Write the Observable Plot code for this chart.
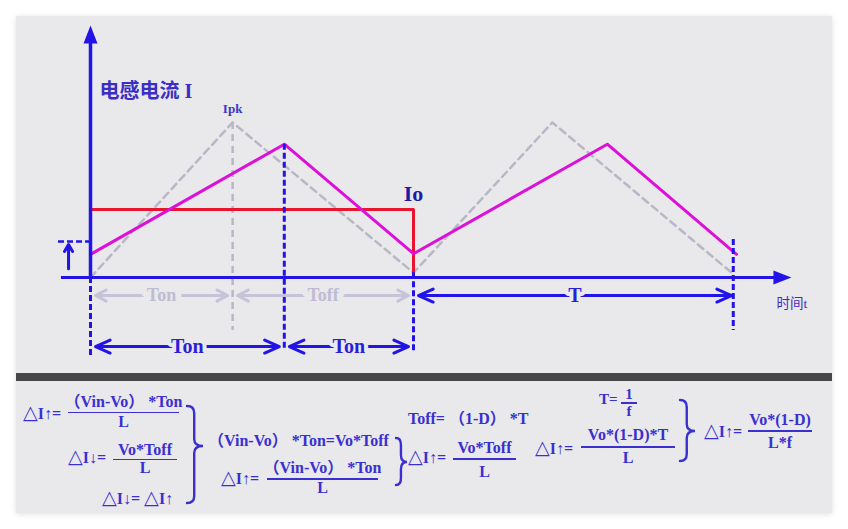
<!DOCTYPE html>
<html lang="zh">
<head>
<meta charset="utf-8">
<title>电感电流</title>
<script src="https://cdn.jsdelivr.net/npm/d3@7"></script>
<script src="https://cdn.jsdelivr.net/npm/@observablehq/plot@0.6"></script>
<style>
html,body{margin:0;padding:0;background:#fff;}
#page{position:relative;width:848px;height:529px;overflow:hidden;background:#fff;}
#frame{position:absolute;left:16px;top:16px;width:816px;height:497px;background:#e9e8eb;box-shadow:0 1px 6px rgba(0,0,0,0.13);}
#chart{position:absolute;left:0;top:0;}
#bar{position:absolute;left:16px;top:373px;width:816px;height:8px;background:#464646;}
#caption{position:absolute;left:0;top:381px;width:848px;height:132px;
  font-family:"Liberation Serif","DejaVu Serif","Noto Sans CJK SC",serif;font-weight:bold;color:#3a2fcf;}
.t{position:absolute;white-space:nowrap;}
.c{transform:translateX(-50%);}
.tri{font-size:1.2em;font-weight:normal;}
.fl{position:absolute;height:1.5px;background:#3a2fcf;}
#braces{position:absolute;left:0;top:0;overflow:visible;}
</style>
</head>
<body>
<div id="page">
  <div id="frame"></div>
  <div id="chart"></div>
  <div id="bar"></div>
  <div id="caption"></div>
</div>
<script>
// ---------------- data ----------------
// time in switching periods (T = 1), current in units of Io
// reference triangle (grey dashed)
const refT = [0, 0.44, 1, 1.43, 1.985];
const refI = [0, 2.28, 0.07, 2.28, 0.07];
// inductor current (magenta)
const ilT = [0, 0.6, 1, 1.6, 2];
const ilI = [0.34, 1.96, 0.35, 1.96, 0.34];
// output current Io (red)
const ioT = [0, 1, 1];
const ioI = [1, 1, 0.07];
// blue dashed markers at switching instants
const markT = [0, 0.6, 1, 1.99];
const markTop = [0, 1.96, 0.07, 0.56];
const markBottom = [-1.15, -1.07, -1.12, -0.78];
// grey guide below the reference peak
const refGuideBottom = -0.78;
// dimension arrows
const dimLabel = ["Ton", "Toff", "T", "Ton", "Ton"];
const dimFrom = [0, 0.44, 1, 0, 0.6];
const dimTo = [0.44, 1, 2, 0.6, 1];
const dimRow = [0, 0, 0, 1, 1];
const dimGrey = [true, true, false, false, false];
const rowLevel = [-0.265, -1.015];
// small ripple marker on the left
const rippleLevel = 0.53;
const rippleArrow = {t: -0.068, from: 0.13, to: 0.485};
const rippleDashFrom = -0.099;
// axes
const axisXStart = -0.09, axisXEnd = 2.136, axisXTip = 2.17;
const axisYEnd = 3.56, axisYTip = 3.706;
// labels
const yLabel = "电感电流 I", yLabelLevel = 2.735;
const xLabel = "时间t";
const peakLabel = "Ipk";
const ioLabel = "Io";

// ---------------- styles ----------------
const BG = "#e9e8eb";
const BLUE = "#2214e6";
const GREY = "#b9b7c6";
const GREY_ARROW = "#c6c2d8";
const GREY_TEXT = "#bfbbd2";
const MAGENTA = "#dc10d8";
const RED = "#e8152e";
const SERIF = '"Liberation Serif","DejaVu Serif",serif';
const CJK = '"Liberation Serif","Noto Sans CJK SC",sans-serif';

const pts = (T, I) => T.map((t, k) => ({t, i: I[k]}));
const ref = pts(refT, refI);
const il = pts(ilT, ilI);
const io = pts(ioT, ioI);
const marks = markT.map((t, k) => ({t, top: markTop[k], bottom: markBottom[k]}));
const dims = dimLabel.map((label, k) => ({
  label, from: dimFrom[k], to: dimTo[k], mid: (dimFrom[k] + dimTo[k]) / 2,
  level: rowLevel[dimRow[k]], grey: dimGrey[k]
}));
const halves = dims.flatMap(d => [{...d, end: d.from}, {...d, end: d.to}]);

const arrowHead = {
  draw(ctx) { ctx.moveTo(0, 0); ctx.lineTo(7, 18); ctx.lineTo(-7, 18); ctx.closePath(); }
};

const chart = Plot.plot({
  width: 848, height: 373, margin: 0,
  style: {background: "transparent", overflow: "visible"},
  x: {domain: [-90 / 323, 758 / 323], range: [0, 848], axis: null},
  y: {domain: [-96 / 68, 277 / 68], range: [373, 0], axis: null},
  marks: [
    // reference waveform
    Plot.line(ref, {x: "t", y: "i", stroke: GREY, strokeWidth: 2.5, strokeDasharray: "7,5"}),
    Plot.ruleX([ref[1]], {x: "t", y1: "i", y2: refGuideBottom, stroke: GREY, strokeWidth: 2.5, strokeDasharray: "7,5"}),
    // Io
    Plot.line(io, {x: "t", y: "i", stroke: RED, strokeWidth: 3}),
    // inductor current
    Plot.line(il, {x: "t", y: "i", stroke: MAGENTA, strokeWidth: 3}),
    // switching markers
    Plot.ruleX(marks, {x: "t", y1: "top", y2: "bottom", stroke: BLUE, strokeWidth: 3, strokeDasharray: "6,3"}),
    // ripple marker
    Plot.ruleY([rippleLevel], {x1: rippleDashFrom, x2: 0, stroke: BLUE, strokeWidth: 2.5, strokeDasharray: "6,3"}),
    Plot.arrow([rippleArrow], {x1: "t", x2: "t", y1: "from", y2: "to", stroke: BLUE, strokeWidth: 3, headLength: 5, headAngle: 60}),
    // axes
    Plot.ruleY([0], {x1: axisXStart, x2: axisXEnd, stroke: BLUE, strokeWidth: 3}),
    Plot.ruleX([0], {y1: 0, y2: axisYEnd, stroke: BLUE, strokeWidth: 3.5}),
    Plot.dot([{t: axisXTip, i: 0, rot: 90}, {t: 0, i: axisYTip, rot: 0}],
      {x: "t", y: "i", rotate: "rot", symbol: arrowHead, fill: BLUE, stroke: "none"}),
    // dimension arrows
    Plot.arrow(halves.filter(d => d.grey), {x1: "mid", x2: "end", y1: "level", y2: "level",
      stroke: GREY_ARROW, strokeWidth: 3, headLength: 6, headAngle: 55, insetEnd: 5}),
    Plot.arrow(halves.filter(d => !d.grey), {x1: "mid", x2: "end", y1: "level", y2: "level",
      stroke: BLUE, strokeWidth: 3, headLength: 8, headAngle: 48, insetEnd: 5}),
    Plot.text(dims.filter(d => d.grey), {x: "mid", y: "level", text: "label", fill: GREY_TEXT,
      stroke: BG, strokeWidth: 12, paintOrder: "stroke", strokeLinejoin: "round",
      fontFamily: SERIF, fontWeight: "bold", fontSize: 18}),
    Plot.text(dims.filter(d => !d.grey), {x: "mid", y: "level", text: "label", fill: "#2a1ed8",
      stroke: BG, strokeWidth: 8, paintOrder: "stroke", strokeLinejoin: "round",
      fontFamily: SERIF, fontWeight: "bold", fontSize: 20}),
    // labels
    Plot.text([yLabel], {x: 0, y: yLabelLevel, text: d => d, dx: 9, textAnchor: "start",
      fill: "#3a2ec4", fontFamily: CJK, fontWeight: "bold", fontSize: 20}),
    Plot.text([xLabel], {x: axisXTip, y: 0, text: d => d, dx: -15, dy: 26, textAnchor: "start",
      fill: "#3a2ec4", fontFamily: CJK, fontSize: 13.5}),
    Plot.text([ref[1]], {x: "t", y: "i", text: () => peakLabel, dy: -14,
      fill: "#3f34cc", fontFamily: SERIF, fontWeight: "bold", fontSize: 13}),
    Plot.text([io[1]], {x: "t", y: "i", text: () => ioLabel, dy: -16,
      fill: "#1e1aa6", fontFamily: SERIF, fontWeight: "bold", fontSize: 22})
  ]
});
document.getElementById("chart").appendChild(chart);

// ---------------- formulas (caption) ----------------
const cap = document.getElementById("caption");
const FY = 381;
function put(s, x, base, center = false, size = 16) {
  const e = document.createElement("span");
  e.className = "t" + (center ? " c" : "");
  s.split(/(△)/).forEach(part => {
    if (!part) return;
    if (part === "△") {
      const tri = document.createElement("span");
      tri.className = "tri";
      tri.textContent = part;
      e.appendChild(tri);
    } else {
      e.appendChild(document.createTextNode(part));
    }
  });
  e.style.fontSize = size + "px";
  e.style.lineHeight = size + "px";
  e.style.left = x + "px";
  e.style.top = (base - FY - size * 0.8375) + "px";
  cap.appendChild(e);
}
function rule(x1, x2, y) {
  const e = document.createElement("div");
  e.className = "fl";
  e.style.left = x1 + "px";
  e.style.width = (x2 - x1) + "px";
  e.style.top = (y - FY - 0.75) + "px";
  cap.appendChild(e);
}
function frac(num, den, x1, x2, y, nb, db, size = 16) {
  put(num, (x1 + x2) / 2, nb, true, size);
  rule(x1, x2, y);
  put(den, (x1 + x2) / 2, db, true, size);
}
put("△I↑=", 23, 418);
frac("（Vin-Vo） *Ton", "L", 68, 179, 412.5, 407, 427);
put("△I↓=", 68, 462);
frac("Vo*Toff", "L", 113, 177, 459.5, 455, 473);
put("△I↓= △I↑", 102, 503);
put("（Vin-Vo） *Ton=Vo*Toff", 208, 446);
put("△I↑=", 221, 483);
frac("（Vin-Vo） *Ton", "L", 267, 378, 479, 473, 493);
put("Toff= （1-D） *T", 408, 424);
put("△I↑=", 408, 462);
frac("Vo*Toff", "L", 453, 516, 459, 453, 477);
put("T=", 599, 405, false, 15);
frac("1", "f", 621, 637, 403, 400, 417, 15);
put("△I↑=", 535, 453);
frac("Vo*(1-D)*T", "L", 581, 675, 447, 440, 463);
put("△I↑=", 704, 436);
frac("Vo*(1-D)", "L*f", 748, 812, 431, 425, 448);

function brace(x0, x1, yTop, yBot, yMid) {
  const xm = x0 + (x1 - x0) * 0.45, r = 7;
  return `M${x0},${yTop - FY} Q${xm},${yTop - FY} ${xm},${yTop - FY + r} L${xm},${yMid - FY - r} ` +
    `Q${xm},${yMid - FY} ${x1},${yMid - FY} Q${xm},${yMid - FY} ${xm},${yMid - FY + r} ` +
    `L${xm},${yBot - FY - r} Q${xm},${yBot - FY} ${x0},${yBot - FY}`;
}
const svgNS = "http://www.w3.org/2000/svg";
const bs = document.createElementNS(svgNS, "svg");
bs.setAttribute("id", "braces");
bs.setAttribute("width", 848);
bs.setAttribute("height", 132);
[[187, 203, 406, 503, 446], [396, 407, 438, 485, 462], [680, 695, 400, 461, 431]].forEach(b => {
  const p = document.createElementNS(svgNS, "path");
  p.setAttribute("d", brace(...b));
  p.setAttribute("fill", "none");
  p.setAttribute("stroke", "#3a2fcf");
  p.setAttribute("stroke-width", 2.4);
  p.setAttribute("stroke-linecap", "round");
  bs.appendChild(p);
});
cap.appendChild(bs);
</script>
</body>
</html>
